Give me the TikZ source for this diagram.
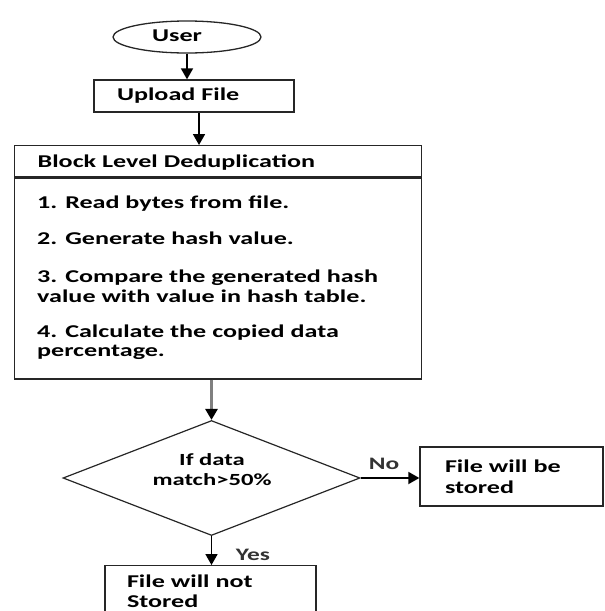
\documentclass[tikz,border=0pt]{standalone}
\usepackage{fontspec}
\setmainfont{Carlito}[FakeStretch=1.45]
\usetikzlibrary{shapes.geometric,arrows.meta}
\begin{document}
\begin{tikzpicture}[x=1pt,y=-1pt,
  every node/.style={font=\fontsize{18}{21}\selectfont\bfseries, text=black},
  boxnode/.style={draw=black!85, line width=1.3pt, rectangle, inner sep=0pt},
  txt/.style={anchor=base west, inner sep=0pt},
  lbl/.style={anchor=base, inner sep=0pt, font=\fontsize{17.5}{21}\selectfont\bfseries, text=black!80},
  arr/.style={line width=1.8pt, black, -{Triangle[width=12pt,length=11pt]}},
  grayarr/.style={line width=3pt, black!50, -{Triangle[width=12pt,length=11pt,color=black]}}
]
\useasboundingbox (0,0) rectangle (605,611);
\clip (0,0) rectangle (605,611);

% User
\node[ellipse, draw=black!85, line width=1.3pt, minimum width=148pt, minimum height=32pt, inner sep=0pt]
  (user) at (187,37) {\raisebox{3pt}{User}\hspace*{20pt}};

% Upload File
\node[boxnode, minimum width=200pt, minimum height=32pt, text width=154pt, inner xsep=23pt, align=left]
  (upload) at (194,96) {Upload File};

% Block level deduplication box
\node[boxnode, anchor=north west, minimum width=407pt, minimum height=31pt, text width=361pt,
  inner xsep=23pt, align=left, text height=13pt, text depth=0pt]
  (head) at (14,145) {Block Level Deduplication};
\node[boxnode, anchor=north west, minimum width=407pt, minimum height=201pt]
  (body) at (head.south west) {};

\node[txt] (l1) at (37,208) {1. Read bytes from file.};
\node[txt] (l2) at (37,244) {2. Generate hash value.};
\node[txt] (l3a) at (37,282) {3. Compare the generated hash};
\node[txt] (l3b) at (37,302) {value with value in hash table.};
\node[txt] (l4a) at (37,337) {4. Calculate the copied data};
\node[txt] (l4b) at (37,356) {percentage.};

% Decision
\node[diamond, draw=black!85, line width=1.2pt, minimum width=297pt, minimum height=115pt, inner sep=0pt]
  (dec) at (211.5,478) {};
\node[align=center, inner sep=0pt, font=\fontsize{17}{20}\selectfont\bfseries]
  (dectext) at (212,470) {If data\\match>50\%};

% Stored
\node[boxnode, minimum width=183pt, minimum height=59pt, text width=133pt, inner xsep=25pt, align=left]
  (stored) at (511.5,476.5) {File will be\\stored};

% Not stored
\node[boxnode, anchor=north, minimum width=189pt, text width=167pt, inner xsep=22pt, inner ysep=9pt, align=left,
  font=\fontsize{18}{20}\selectfont\bfseries]
  (notstored) at (210.5,565) {File will not\\Stored};

% Connectors
\draw[arr] (user.south) -- (user.south |- upload.north);
\draw[arr] ([xshift=5pt]upload.south) -- ([xshift=5pt]upload.south |- head.north);
\draw[grayarr] (dec.north |- body.south) -- (dec.north);
\draw[arr] (dec.east) -- (dec.east -| stored.west);
\draw[arr] (dec.south) -- (dec.south |- notstored.north);

\node[lbl] (no) at (384,469) {No};
\node[lbl] (yes) at (253,560) {Yes};
\end{tikzpicture}
\end{document}
